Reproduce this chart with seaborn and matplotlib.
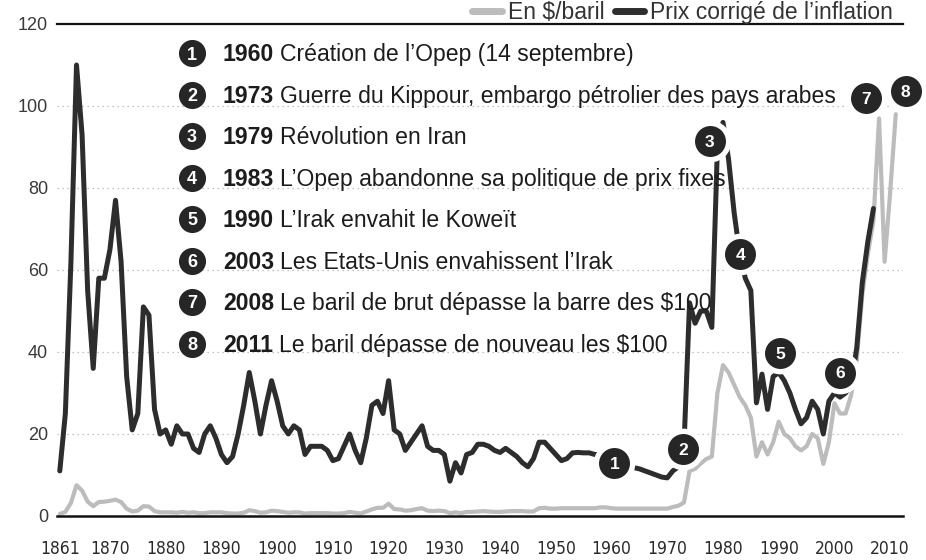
import matplotlib
matplotlib.use("Agg")
import matplotlib.pyplot as plt
from matplotlib import font_manager
import seaborn as sns
import pandas as pd

# ---------------- data ----------------
years_nominal = list(range(1861, 2012))
price_nominal = [
    0.5, 1.0, 3.2, 7.5, 6.2, 3.5, 2.4, 3.4, 3.5, 3.7,          # 1861-1870
    4.0, 3.4, 1.8, 1.1, 1.3, 2.4, 2.3, 1.2, 0.9, 0.9,          # 1871-1880
    0.9, 0.8, 1.0, 0.8, 0.9, 0.7, 0.7, 0.9, 0.9, 0.9,          # 1881-1890
    0.7, 0.6, 0.6, 0.8, 1.4, 1.2, 0.8, 0.9, 1.3, 1.2,          # 1891-1900
    1.0, 0.8, 0.9, 0.9, 0.6, 0.7, 0.7, 0.7, 0.7, 0.6,          # 1901-1910
    0.6, 0.7, 1.0, 0.8, 0.6, 1.1, 1.6, 2.0, 2.0, 3.0,          # 1911-1920
    1.7, 1.6, 1.3, 1.4, 1.7, 1.9, 1.3, 1.2, 1.3, 1.2,          # 1921-1930
    0.7, 0.9, 0.7, 1.0, 1.0, 1.1, 1.2, 1.1, 1.0, 1.0,          # 1931-1940
    1.1, 1.2, 1.2, 1.2, 1.1, 1.1, 1.9, 2.0, 1.8, 1.8,          # 1941-1950
    1.9, 1.9, 1.9, 1.9, 1.9, 1.9, 1.9, 2.1, 2.1, 1.9,          # 1951-1960
    1.8, 1.8, 1.8, 1.8, 1.8, 1.8, 1.8, 1.8, 1.8, 1.8,          # 1961-1970
    2.2, 2.5, 3.3, 11.0, 11.5, 12.8, 13.9, 14.5, 30.0, 36.8,   # 1971-1980
    35.0, 32.0, 29.0, 27.0, 24.0, 14.5, 18.0, 15.0, 18.0, 23.0,  # 1981-1990
    20.0, 19.0, 17.0, 16.0, 17.0, 20.0, 19.0, 12.7, 18.0, 27.5,  # 1991-2000
    25.0, 25.0, 29.5, 38.0, 54.0, 64.0, 72.0, 97.0, 62.0, 79.0,  # 2001-2010
    98.0,                                                       # 2011
]

years_real = list(range(1861, 2008))
price_real = [
    11, 25, 62, 110, 93, 55, 36, 58, 58, 65,                    # 1861-1870
    77, 62, 34, 21, 25, 51, 49, 26, 20, 21,                     # 1871-1880
    17.5, 22, 20, 20, 16.5, 15.5, 20, 22, 19, 15,               # 1881-1890
    13, 14.5, 20, 27, 35, 28, 20, 27, 33, 28,                   # 1891-1900
    22, 20, 22, 21, 15, 17, 17, 17, 16, 13.5,                   # 1901-1910
    14, 17, 20, 16, 13, 19, 27, 28, 25, 33,                     # 1911-1920
    21, 20, 16, 18, 20, 22, 17, 16, 16, 15,                     # 1921-1930
    8.5, 13, 10.5, 15, 15.5, 17.5, 17.5, 17, 16, 15.5,          # 1931-1940
    16.5, 15.5, 14.5, 13, 12, 14, 18, 18, 16.5, 15,             # 1941-1950
    13.5, 14, 15.4, 15.5, 15.4, 15.4, 15, 15, 14, 13,           # 1951-1960
    13, 12.5, 12, 11.8, 11.5, 11, 10.5, 10, 9.5, 9.3,           # 1961-1970
    11, 12, 17, 52, 47, 50, 50, 46, 90, 96,                     # 1971-1980
    87, 74, 64, 58, 55, 27.6, 34.6, 26, 34, 35,                 # 1981-1990
    33, 30, 26, 22.5, 24, 28, 26, 20, 28, 30,                   # 1991-2000
    29, 30, 32, 41, 57, 67, 75,                                 # 2001-2007
]

series_labels = ["En \\$/baril", "Prix corrigé de l’inflation"]

event_numbers = ["1", "2", "3", "4", "5", "6", "7", "8"]
event_years = ["1960", "1973", "1979", "1983", "1990", "2003", "2008", "2011"]
event_texts = [
    "Création de l’Opep (14 septembre)",
    "Guerre du Kippour, embargo pétrolier des pays arabes",
    "Révolution en Iran",
    "L’Opep abandonne sa politique de prix fixes",
    "L’Irak envahit le Koweït",
    "Les Etats-Unis envahissent l’Irak",
    "Le baril de brut dépasse la barre des \\$100",
    "Le baril dépasse de nouveau les \\$100",
]
# anchor of each numbered badge on the chart (year, price)
badge_years = [1960.5, 1972.8, 1977.6, 1983.1, 1990.3, 2001.0, 2005.6, 2012.8]
badge_values = [12.9, 16.3, 91.5, 64.0, 39.8, 35.0, 102.0, 103.7]

x_ticks = [1861, 1870, 1880, 1890, 1900, 1910, 1920, 1930, 1940, 1950,
           1960, 1970, 1980, 1990, 2000, 2010]
y_ticks = [0, 20, 40, 60, 80, 100, 120]

# ---------------- style ----------------
sns.set_theme(style="white")
plt.rcParams['font.family'] = ['Liberation Sans', 'DejaVu Sans']


def find_narrow_font():
    best = None
    for f in font_manager.fontManager.ttflist:
        name = f.name
        is_narrow = ('Narrow' in name or 'Condensed' in name or
                     str(f.stretch) in ('condensed', 'semi-condensed'))
        if not is_narrow:
            continue
        if f.style != 'normal':
            continue
        if f.weight not in ('normal', 400, 'regular', 'book'):
            continue
        if 'Mono' in name or 'Serif' in name:
            continue
        rank = 0 if 'Liberation' in name else 1
        if best is None or rank < best[0]:
            best = (rank, f.fname)
    return best[1] if best else None


narrow_file = find_narrow_font()

W, H = 926, 560
fig = plt.figure(figsize=(W / 100, H / 100), dpi=100)
fig.patch.set_facecolor('white')


def fx(px):
    return px / W


def fy(py):
    return 1 - py / H


ax = fig.add_axes([fx(57), fy(516), fx(903) - fx(57), fy(24) - fy(516)])
ax.set_facecolor('white')

GRAY = '#bcbcbc'
DARK = '#2d2d2d'

df_nom = pd.DataFrame({'year': years_nominal, 'price': price_nominal})
df_real = pd.DataFrame({'year': years_real, 'price': price_real})

sns.lineplot(data=df_nom, x='year', y='price', color=GRAY, linewidth=3.0,
             label=series_labels[0], ax=ax, zorder=3)
sns.lineplot(data=df_real, x='year', y='price', color=DARK, linewidth=3.6,
             label=series_labels[1], ax=ax, zorder=4)

ax.set_xlim(1860.5, 2012.3)
ax.set_ylim(0, 120)
ax.set_xlabel('')
ax.set_ylabel('')

for s in ['left', 'right']:
    ax.spines[s].set_visible(False)
ax.spines['top'].set_visible(True)
ax.spines['top'].set_color('#111111')
ax.spines['top'].set_linewidth(1.6)
ax.spines['bottom'].set_color('#111111')
ax.spines['bottom'].set_linewidth(1.8)
ax.spines['bottom'].set_zorder(5)

ax.set_xticks(x_ticks)
ax.set_xticklabels([str(t) for t in x_ticks])
ax.set_yticks(y_ticks)
ax.set_yticklabels([str(t) for t in y_ticks])
ax.tick_params(axis='x', direction='out', length=6, width=1.5, color='#111111',
               pad=11, labelsize=12, labelcolor='#2a2a2a')
ax.tick_params(axis='y', length=0, pad=6.5, labelsize=13, labelcolor='#3a3a3a')
if narrow_file:
    fp = font_manager.FontProperties(fname=narrow_file, size=12.5)
    for lbl in ax.get_xticklabels():
        lbl.set_fontproperties(fp)

for yv in y_ticks[1:-1]:
    ax.axhline(yv, color='#b0b0b0', linewidth=0.9, linestyle=(0, (1, 3)), zorder=1)

# legend above the plot, right-aligned
leg = ax.legend(loc='lower right', bbox_to_anchor=(fx(893), fy(24)),
                bbox_transform=fig.transFigure, ncol=2, frameon=False,
                fontsize=16.5, handlelength=1.3, handletextpad=0.25,
                columnspacing=0.45, borderpad=0, borderaxespad=0)
for t in leg.get_texts():
    t.set_color('#333333')
for h in leg.get_lines():
    h.set_linewidth(5)

# numbered badges on the chart
ax.scatter(badge_years, badge_values, s=30 ** 2, color='white', zorder=6,
           clip_on=False, linewidths=0)
ax.scatter(badge_years, badge_values, s=22.3 ** 2, color='#262626', zorder=7,
           clip_on=False, linewidths=0)
for n, bx, by in zip(event_numbers, badge_years, badge_values):
    ax.text(bx, by, n, color='white', fontsize=12.5, fontweight='bold',
            ha='center', va='center_baseline', zorder=8, clip_on=False)

# list of events
list_x_circle = 192
list_x_text = 223
list_y0 = 53
list_dy = 41.5
for i, (n, yr, txt) in enumerate(zip(event_numbers, event_years, event_texts)):
    cy = list_y0 + i * list_dy
    fig.add_artist(plt.Line2D([fx(list_x_circle)], [fy(cy)], marker='o',
                              markersize=19.5, color='#262626',
                              markeredgewidth=0, linestyle='none',
                              transform=fig.transFigure))
    fig.text(fx(list_x_circle), fy(cy), n, color='white', fontsize=13,
             fontweight='bold', ha='center', va='center_baseline')
    t_year = fig.text(fx(list_x_text), fy(cy + 8.3), yr, fontsize=16.6,
                      fontweight='bold', color='#1c1c1c', ha='left',
                      va='baseline')
    fig.add_artist(matplotlib.text.Annotation(
        txt, xy=(1, 0), xycoords=t_year, xytext=(4.0, 0),
        textcoords='offset points', fontsize=16.6, color='#1c1c1c',
        ha='left', va='bottom'))

fig.savefig('out.png', dpi=100, facecolor='white')
